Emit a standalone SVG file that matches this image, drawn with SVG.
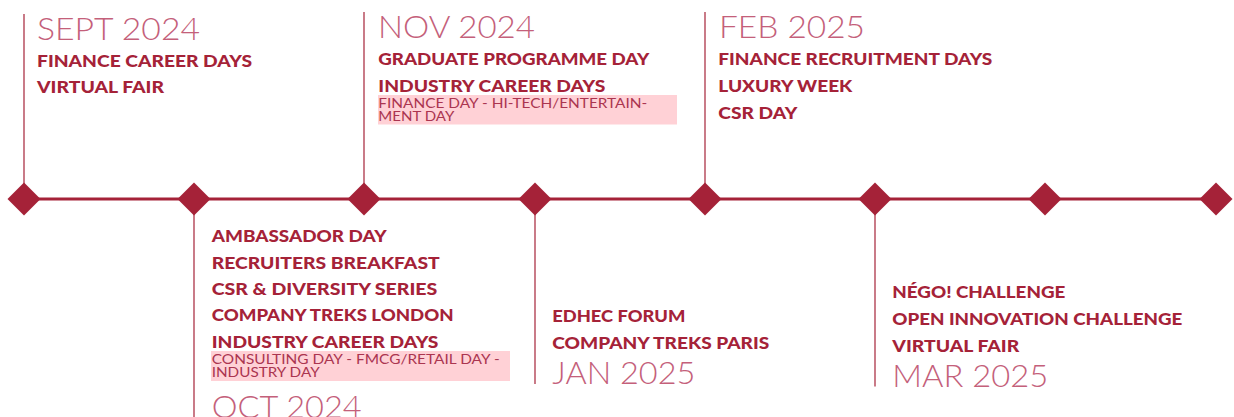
<svg xmlns="http://www.w3.org/2000/svg" width="1234" height="417" viewBox="0 0 1234 417">
<defs>
<style>
.hd{font-family:Lato,"Open Sans","Liberation Sans",sans-serif;font-weight:300;font-size:31px;fill:#c4607a}
.it{font-family:Lato,"Open Sans","Liberation Sans",sans-serif;font-weight:900;font-size:16px;fill:#a52238}
.sb{font-family:Lato,"Open Sans","Liberation Sans",sans-serif;font-weight:400;font-size:12.5px;fill:#ab3550}
.vl{stroke:#a52238;stroke-width:1.2;fill:none}
.dm{fill:#a52238}
.hl{fill:#ffd1d6}
</style>
<polygon id="d" points="0,-16.5 16.5,0 0,16.5 -16.5,0"/>
</defs>
<rect width="1234" height="417" fill="#ffffff"/>
<g id="connectors">
<line x1="24" y1="199" x2="1216" y2="199" stroke="#a52238" stroke-width="3"/>
</g>
<g id="sept2024">
<line class="vl" x1="24" y1="14" x2="24" y2="199"/>
<use href="#d" class="dm" x="24" y="199"/>
<text class="hd" x="37" y="40" textLength="163" lengthAdjust="spacingAndGlyphs">SEPT 2024</text>
<text class="it" x="37" y="67" textLength="215" lengthAdjust="spacingAndGlyphs">FINANCE CAREER DAYS</text>
<text class="it" x="37" y="93" textLength="127" lengthAdjust="spacingAndGlyphs">VIRTUAL FAIR</text>
</g>
<g id="oct2024">
<line class="vl" x1="194" y1="199" x2="194" y2="417"/>
<use href="#d" class="dm" x="194" y="199"/>
<text class="it" x="211.7" y="242" textLength="175" lengthAdjust="spacingAndGlyphs">AMBASSADOR DAY</text>
<text class="it" x="211.7" y="268.5" textLength="228" lengthAdjust="spacingAndGlyphs">RECRUITERS BREAKFAST</text>
<text class="it" x="211.7" y="295" textLength="225.6" lengthAdjust="spacingAndGlyphs">CSR &amp; DIVERSITY SERIES</text>
<text class="it" x="211.7" y="321" textLength="242" lengthAdjust="spacingAndGlyphs">COMPANY TREKS LONDON</text>
<text class="it" x="211.7" y="347.7" textLength="226.7" lengthAdjust="spacingAndGlyphs">INDUSTRY CAREER DAYS</text>
<rect class="hl" x="211" y="351" width="299" height="30"/>
<text class="sb" x="211.7" y="364" textLength="288" lengthAdjust="spacingAndGlyphs">CONSULTING DAY - FMCG/RETAIL DAY -</text>
<text class="sb" x="211.7" y="376.7" textLength="108" lengthAdjust="spacingAndGlyphs">INDUSTRY DAY</text>
<text class="hd" x="211.7" y="418" textLength="150" lengthAdjust="spacingAndGlyphs">OCT 2024</text>
</g>
<g id="nov2024">
<line class="vl" x1="364" y1="12" x2="364" y2="199"/>
<use href="#d" class="dm" x="364" y="199"/>
<text class="hd" x="378" y="37.5" textLength="157" lengthAdjust="spacingAndGlyphs">NOV 2024</text>
<text class="it" x="378.3" y="65" textLength="271" lengthAdjust="spacingAndGlyphs">GRADUATE PROGRAMME DAY</text>
<text class="it" x="378.3" y="92" textLength="227" lengthAdjust="spacingAndGlyphs">INDUSTRY CAREER DAYS</text>
<rect class="hl" x="378" y="95" width="299" height="29.5"/>
<text class="sb" x="378.3" y="108" textLength="269" lengthAdjust="spacingAndGlyphs">FINANCE DAY - HI-TECH/ENTERTAIN-</text>
<text class="sb" x="378.3" y="120.7" textLength="76" lengthAdjust="spacingAndGlyphs">MENT DAY</text>
</g>
<g id="jan2025">
<line class="vl" x1="535" y1="199" x2="535" y2="384"/>
<use href="#d" class="dm" x="535" y="199"/>
<text class="it" x="552.3" y="322" textLength="133" lengthAdjust="spacingAndGlyphs">EDHEC FORUM</text>
<text class="it" x="552.3" y="349" textLength="217" lengthAdjust="spacingAndGlyphs">COMPANY TREKS PARIS</text>
<text class="hd" x="552.3" y="384" textLength="143" lengthAdjust="spacingAndGlyphs">JAN 2025</text>
</g>
<g id="feb2025">
<line class="vl" x1="705" y1="12" x2="705" y2="199"/>
<use href="#d" class="dm" x="705" y="199"/>
<text class="hd" x="719" y="37.5" textLength="146" lengthAdjust="spacingAndGlyphs">FEB 2025</text>
<text class="it" x="718.3" y="65" textLength="274" lengthAdjust="spacingAndGlyphs">FINANCE RECRUITMENT DAYS</text>
<text class="it" x="718.3" y="92" textLength="134" lengthAdjust="spacingAndGlyphs">LUXURY WEEK</text>
<text class="it" x="718.3" y="119" textLength="79" lengthAdjust="spacingAndGlyphs">CSR DAY</text>
</g>
<g id="mar2025">
<line class="vl" x1="875" y1="199" x2="875" y2="386.5"/>
<use href="#d" class="dm" x="875" y="199"/>
<text class="it" x="892.3" y="298" textLength="173" lengthAdjust="spacingAndGlyphs">NÉGO! CHALLENGE</text>
<text class="it" x="892.3" y="325" textLength="290" lengthAdjust="spacingAndGlyphs">OPEN INNOVATION CHALLENGE</text>
<text class="it" x="892.3" y="352" textLength="127" lengthAdjust="spacingAndGlyphs">VIRTUAL FAIR</text>
<text class="hd" x="892.3" y="387" textLength="156" lengthAdjust="spacingAndGlyphs">MAR 2025</text>
</g>
<g id="milestone7">
<use href="#d" class="dm" x="1045" y="199"/>
</g>
<g id="milestone8">
<use href="#d" class="dm" x="1216" y="199"/>
</g>
</svg>
